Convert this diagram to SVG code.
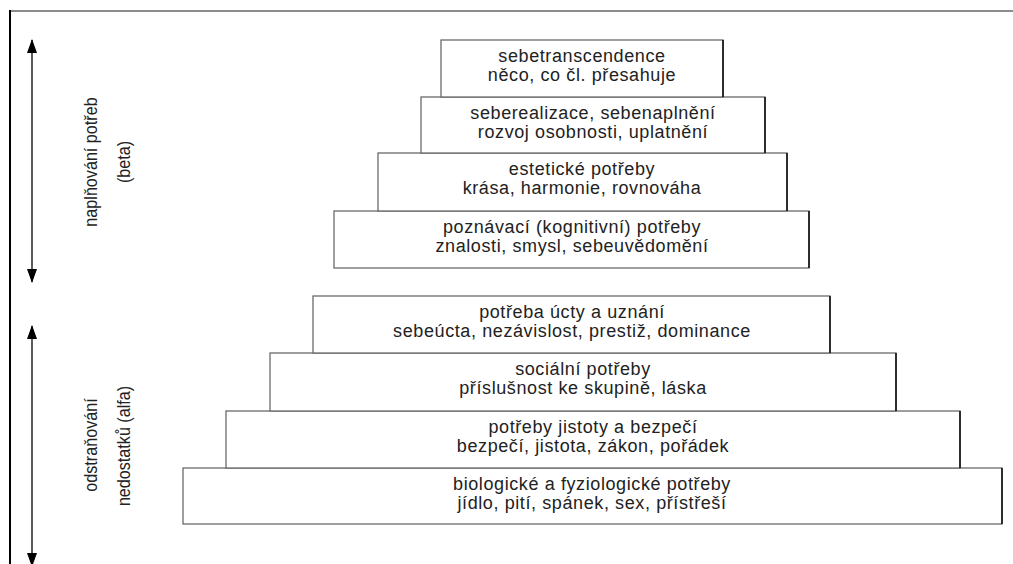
<svg xmlns="http://www.w3.org/2000/svg" width="1013" height="564" viewBox="0 0 1013 564">
<style>
.box{fill:#fff;stroke:#6a6a6a;stroke-width:1.3}
.edge{stroke:#111;stroke-width:1.6}
.t{font-family:"Liberation Sans",Arial,sans-serif;font-size:18px;letter-spacing:0.6px;fill:#222;text-anchor:middle}
.v{font-family:"Liberation Sans",Arial,sans-serif;font-size:19px;fill:#222;text-anchor:middle}
.arr{stroke:#333;stroke-width:1.6;fill:none}
</style>
<defs>
<marker id="ah" viewBox="0 0 14 10" refX="13" refY="5" markerWidth="14" markerHeight="10" markerUnits="userSpaceOnUse" orient="auto">
<path d="M0,0 L14,5 L0,10 Z" fill="#000"/>
</marker>
</defs>
<rect width="1013" height="564" fill="#fff"/>
<g id="frame">
<line x1="10" y1="11" x2="1013" y2="11" stroke="#666" stroke-width="1.5"/>
<line x1="10" y1="10" x2="10" y2="564" stroke="#000" stroke-width="2"/>
</g>
<g id="connectors">
<line class="arr" x1="32" y1="158" x2="32" y2="40" marker-end="url(#ah)"/>
<line class="arr" x1="32" y1="158" x2="32" y2="282" marker-end="url(#ah)"/>
<line class="arr" x1="32" y1="445" x2="32" y2="326" marker-end="url(#ah)"/>
<line class="arr" x1="32" y1="445" x2="32" y2="566" marker-end="url(#ah)"/>
</g>
<g id="label-beta">
<text class="v" transform="translate(97,162) rotate(-90) scale(0.85,1)">naplňování potřeb</text>
<text class="v" transform="translate(130,162) rotate(-90) scale(0.85,1)">(beta)</text>
</g>
<g id="label-alfa">
<text class="v" transform="translate(97,445) rotate(-90) scale(0.85,1)">odstraňování</text>
<text class="v" transform="translate(130,446) rotate(-90) scale(0.85,1)">nedostatků (alfa)</text>
</g>
<g id="n8">
<rect class="box" x="183" y="468" width="819" height="56"/>
<line class="edge" x1="1002" y1="468" x2="1002" y2="524"/>
<text class="t" x="592" y="490">biologické a fyziologické potřeby</text>
<text class="t" x="592" y="509">jídlo, pití, spánek, sex, přístřeší</text>
</g>
<g id="n7">
<rect class="box" x="226" y="411" width="734" height="57"/>
<line class="edge" x1="960" y1="411" x2="960" y2="468"/>
<text class="t" x="593" y="433">potřeby jistoty a bezpečí</text>
<text class="t" x="593" y="452">bezpečí, jistota, zákon, pořádek</text>
</g>
<g id="n6">
<rect class="box" x="270" y="353" width="626" height="58"/>
<line class="edge" x1="896" y1="353" x2="896" y2="411"/>
<text class="t" x="583" y="375">sociální potřeby</text>
<text class="t" x="583" y="394">příslušnost ke skupině, láska</text>
</g>
<g id="n5">
<rect class="box" x="313" y="296" width="517" height="57"/>
<line class="edge" x1="830" y1="296" x2="830" y2="353"/>
<text class="t" x="572" y="318">potřeba úcty a uznání</text>
<text class="t" x="572" y="337">sebeúcta, nezávislost, prestiž, dominance</text>
</g>
<g id="n4">
<rect class="box" x="334" y="211" width="475" height="57"/>
<line class="edge" x1="809" y1="211" x2="809" y2="268"/>
<text class="t" x="572" y="233">poznávací (kognitivní) potřeby</text>
<text class="t" x="572" y="252">znalosti, smysl, sebeuvědomění</text>
</g>
<g id="n3">
<rect class="box" x="378" y="153" width="409" height="58"/>
<line class="edge" x1="787" y1="153" x2="787" y2="211"/>
<text class="t" x="582" y="175">estetické potřeby</text>
<text class="t" x="582" y="194">krása, harmonie, rovnováha</text>
</g>
<g id="n2">
<rect class="box" x="421" y="97" width="344" height="56"/>
<line class="edge" x1="765" y1="97" x2="765" y2="153"/>
<text class="t" x="593" y="119">seberealizace, sebenaplnění</text>
<text class="t" x="593" y="138">rozvoj osobnosti, uplatnění</text>
</g>
<g id="n1">
<rect class="box" x="441" y="40" width="282" height="57"/>
<line class="edge" x1="723" y1="40" x2="723" y2="97"/>
<text class="t" x="582" y="62">sebetranscendence</text>
<text class="t" x="582" y="81">něco, co čl. přesahuje</text>
</g>
</svg>
